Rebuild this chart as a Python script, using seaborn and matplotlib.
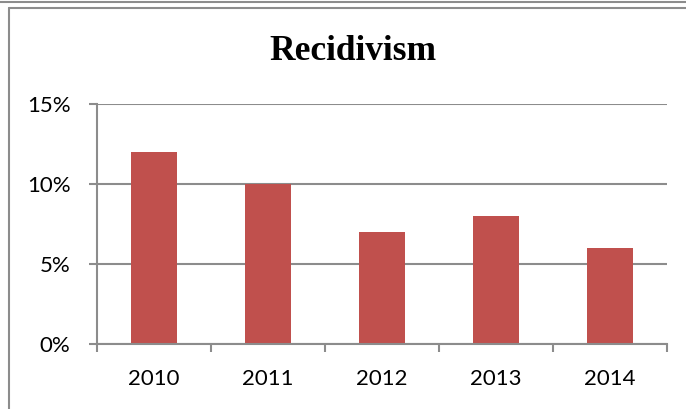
import matplotlib
matplotlib.use("Agg")
import matplotlib.pyplot as plt
from matplotlib.lines import Line2D
from matplotlib.ticker import FixedLocator, PercentFormatter
import seaborn as sns
import pandas as pd

years = ["2010", "2011", "2012", "2013", "2014"]
recidivism = [0.12, 0.10, 0.07, 0.08, 0.06]
y_ticks = [0.0, 0.05, 0.10, 0.15]
title = "Recidivism"

df = pd.DataFrame({"year": years, "rate": recidivism})

sns.set_theme(style="white")
plt.rcParams["font.family"] = ["Lato", "DejaVu Sans"]
plt.rcParams["text.color"] = "black"

W, H = 686, 409
fig = plt.figure(figsize=(W / 100, H / 100), dpi=100)
fig.patch.set_facecolor("white")

ax = fig.add_axes([97 / W, 1 - 344 / H, (667 - 97) / W, (344 - 104) / H])
sns.barplot(data=df, x="year", y="rate", color="#C0504D", saturation=1,
            width=0.4, ax=ax, edgecolor="none")

gray = "#8C8C8C"
ax.set_xlim(-0.5, len(years) - 0.5)
ax.set_ylim(0, 0.15)
ax.yaxis.set_major_locator(FixedLocator(y_ticks))
ax.yaxis.set_major_formatter(PercentFormatter(1.0, decimals=0))
ax.grid(axis="y", color=gray, linewidth=1.5)
ax.set_axisbelow(True)
ax.set_xlabel("")
ax.set_ylabel("")

for s in ["top", "right"]:
    ax.spines[s].set_visible(False)
for s in ["left", "bottom"]:
    ax.spines[s].set_color(gray)
    ax.spines[s].set_linewidth(1.5)

ax.tick_params(axis="y", which="major", length=6, width=1.5, color=gray,
               direction="out", pad=13, labelsize=16, labelcolor="black", left=True)
ax.set_xticks([i - 0.5 for i in range(len(years) + 1)], minor=True)
ax.tick_params(axis="x", which="minor", length=6, width=1.5, color=gray,
               direction="out", bottom=True)
ax.tick_params(axis="x", which="major", length=0, pad=18, labelsize=16,
               labelcolor="black")

fig.text(353 / W, 1 - 51 / H, title, ha="center", va="center", color="black",
         fontsize=25.5, fontweight="bold", family=["Liberation Serif", "DejaVu Serif"])

# frame lines from the screenshot
fig.add_artist(Line2D([0, 1], [1 - 2 / H, 1 - 2 / H], color=gray, linewidth=1.5,
                      transform=fig.transFigure))
fig.add_artist(Line2D([8.5 / W, 1], [1 - 7.5 / H, 1 - 7.5 / H], color=gray,
                      linewidth=1.5, transform=fig.transFigure))
fig.add_artist(Line2D([8.5 / W, 8.5 / W], [0, 1 - 7.5 / H], color=gray,
                      linewidth=1.5, transform=fig.transFigure))

fig.savefig("out.png", dpi=100, facecolor="white")
